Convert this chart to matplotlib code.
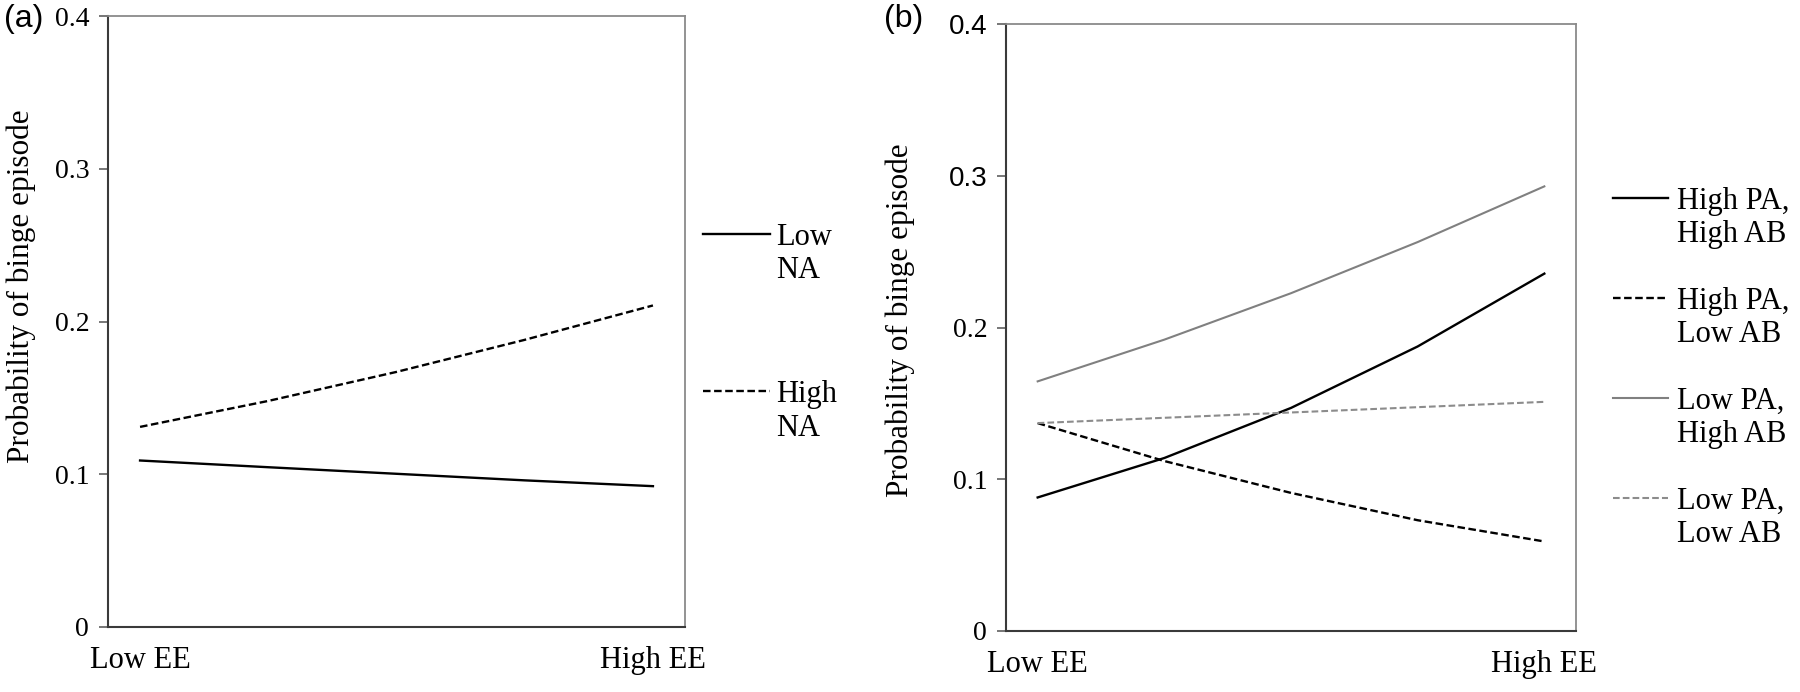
import numpy             as np
import matplotlib
matplotlib.use('Agg')
import matplotlib.pyplot as plt


# data (probability of binge episode)
x_pos    = [0.0, 0.25, 0.5, 0.75, 1.0]
x_labels = ['Low EE', 'High EE']

low_na   = [0.109, 0.1046, 0.1003, 0.0960, 0.0922]
high_na  = [0.131, 0.148,  0.167,  0.188,  0.2105]

hpa_hab  = [0.088, 0.114,  0.147,  0.1875, 0.2355]
hpa_lab  = [0.137, 0.112,  0.091,  0.073,  0.059]
lpa_hab  = [0.1645, 0.192, 0.2226, 0.2563, 0.293]
lpa_lab  = [0.137, 0.1405, 0.144,  0.1475, 0.151]

y_ticks  = [0, 0.1, 0.2, 0.3, 0.4]
y_labels = ['0', '0.1', '0.2', '0.3', '0.4']

names_a = ['Low\nNA', 'High\nNA']
names_b = ['High PA,\nHigh AB', 'High PA,\nLow AB', 'Low PA,\nHigh AB', 'Low PA,\nLow AB']


serif = 'Liberation Serif'
sans  = 'Liberation Sans'

W, H = 1800, 692
dash = (0, (3.2, 1.5))

fig = plt.figure(figsize = (W / 100, H / 100), dpi = 100)


def px_box(left, top, right, bottom):
    return [left / W, 1 - bottom / H, (right - left) / W, (bottom - top) / H]


def style_ax(ax):

    ax.set_xlim(-0.0625, 1.0625)
    ax.set_ylim(0, 0.4)

    ax.set_xticks([0, 1])
    ax.set_xticklabels(x_labels, fontfamily = serif, fontsize = 22)
    ax.tick_params(axis = 'x', length = 0, pad = 14)

    ax.set_yticks(y_ticks)
    ax.set_yticklabels(y_labels, fontfamily = serif, fontsize = 20)
    ax.tick_params(axis = 'y', length = 6.5, width = 1.2, color = '#606060', pad = 7)

    for s in ['left', 'bottom']:
        ax.spines[s].set_color('#3a3a3a')
        ax.spines[s].set_linewidth(1.5)
    for s in ['top', 'right']:
        ax.spines[s].set_color('#8a8a8a')
        ax.spines[s].set_linewidth(1.3)


def top_align(leg):
    # put the key line level with the first line of each two-line label
    for col in leg._legend_handle_box.get_children():
        for row in col.get_children():
            row.align = 'top'


# (a)
# ---

ax1 = fig.add_axes(px_box(108, 16, 685, 627))

l1, = ax1.plot(x_pos, low_na,  color = '#000000', lw = 1.7)
l2, = ax1.plot(x_pos, high_na, color = '#000000', lw = 1.7, linestyle = dash)

style_ax(ax1)

ax1.set_ylabel('Probability of binge episode', fontfamily = serif, fontsize = 22.5)
ax1.yaxis.set_label_coords(-0.125, 0.558)

leg1 = ax1.legend([l1, l2], names_a, loc = 'upper left', bbox_to_anchor = (703 / W, 1 - 223 / H),
                  bbox_transform = fig.transFigure, frameon = False, borderpad = 0, borderaxespad = 0,
                  handlelength = 2.2, handletextpad = 0.2, labelspacing = 3.1,
                  prop = {'family': serif, 'size': 22})
top_align(leg1)

fig.text(4 / W, 1 - 4 / H, '(a)', fontfamily = sans, fontsize = 23, va = 'top', ha = 'left')


# (b)
# ---

ax2 = fig.add_axes(px_box(1006, 24, 1576, 631))

m1, = ax2.plot(x_pos, hpa_hab, color = '#000000', lw = 1.7)
m2, = ax2.plot(x_pos, hpa_lab, color = '#000000', lw = 1.7, linestyle = dash)
m3, = ax2.plot(x_pos, lpa_hab, color = '#808080', lw = 1.5)
m4, = ax2.plot(x_pos, lpa_lab, color = '#8c8c8c', lw = 1.5, linestyle = dash)

style_ax(ax2)

for t in ax2.get_yticklabels()[3 :]:
    t.set_fontfamily(sans)

ax2.set_ylabel('Probability of binge episode', fontfamily = serif, fontsize = 22.5)
ax2.yaxis.set_label_coords(-0.160, 0.512)

leg2 = ax2.legend([m1, m2, m3, m4], names_b, loc = 'upper left', bbox_to_anchor = (1613 / W, 1 - 187 / H),
                  bbox_transform = fig.transFigure, frameon = False, borderpad = 0, borderaxespad = 0,
                  handlelength = 1.8, handletextpad = 0.3, labelspacing = 1.23,
                  prop = {'family': serif, 'size': 22})
top_align(leg2)

fig.text(884 / W, 1 - 4 / H, '(b)', fontfamily = sans, fontsize = 23, va = 'top', ha = 'left')


plt.savefig('out.png', dpi = 100)
